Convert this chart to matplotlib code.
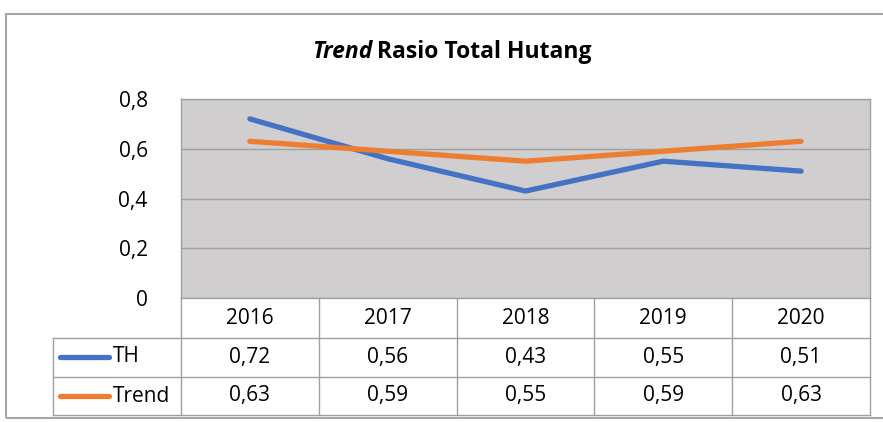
import matplotlib
matplotlib.use("Agg")
import matplotlib.pyplot as plt
from matplotlib.patches import Rectangle
from matplotlib.lines import Line2D
from matplotlib.transforms import blended_transform_factory

plt.rcParams.update({
    "font.family": ["Open Sans", "DejaVu Sans"],
    "font.size": 15,
})

years = ["2016", "2017", "2018", "2019", "2020"]
th = [0.72, 0.56, 0.43, 0.55, 0.51]
trend = [0.63, 0.59, 0.55, 0.59, 0.63]
yticks = [0, 0.2, 0.4, 0.6, 0.8]

COL_TH = "#4472C4"
COL_TR = "#ED7D31"
W, H = 883, 422


def fx(px):
    return px / W


def fy(py):
    return 1 - py / H


fig = plt.figure(figsize=(W / 100, H / 100), dpi=100)

# outer chart frame
fig.patches.append(Rectangle((fx(6), fy(418)), fx(885) - fx(6), fy(14) - fy(418),
                             transform=fig.transFigure, fill=False, ec="#A6A6A6", lw=1.5))

ax = fig.add_axes([fx(181), fy(298), fx(870) - fx(181), fy(99) - fy(298)])
ax.set_facecolor("#D0CECE")
x = range(len(years))
ax.plot(x, th, color=COL_TH, lw=3.8, solid_capstyle="round", zorder=3)
ax.plot(x, trend, color=COL_TR, lw=3.8, solid_capstyle="round", zorder=3)
ax.set_xlim(-0.5, len(years) - 0.5)
ax.set_ylim(0, 0.8)
ax.set_yticks(yticks)
ax.set_yticklabels([("%g" % v).replace(".", ",") for v in yticks])
ax.tick_params(axis="y", length=0, pad=24, labelsize=15)
ax.set_xticks([])
ax.grid(axis="y", color="#A0A0A0", lw=1.0)
for s in ax.spines.values():
    s.set_color("#A0A0A0")
    s.set_linewidth(1.0)

# title: italic "Trend" + bold rest
t1 = fig.text(fx(372), fy(52), "Trend", ha="right", va="center", fontsize=16.5,
              fontstyle="italic", fontweight="bold")
fig.text(fx(377), fy(52), "Rasio Total Hutang", ha="left", va="center", fontsize=16.5,
         fontweight="bold")

# data table under the axis
tr = blended_transform_factory(ax.transData, fig.transFigure)
lc = "#A0A0A0"
n = len(years)
for yy in (338, 377, 415):
    fig.add_artist(Line2D([fx(53), fx(870)], [fy(yy), fy(yy)], transform=fig.transFigure,
                          color=lc, lw=1))
fig.add_artist(Line2D([fx(53), fx(53)], [fy(338), fy(415)], transform=fig.transFigure,
                      color=lc, lw=1))
for i in range(n + 1):
    fig.add_artist(Line2D([i - 0.5, i - 0.5], [fy(298), fy(415)], transform=tr, color=lc, lw=1))

for i, yr in enumerate(years):
    fig.text(i, fy(318), yr, transform=tr, ha="center", va="center")
    fig.text(i, fy(357), ("%.2f" % th[i]).replace(".", ","), transform=tr,
             ha="center", va="center")
    fig.text(i, fy(396), ("%.2f" % trend[i]).replace(".", ","), transform=tr,
             ha="center", va="center")

for yy, col, name in [(357, COL_TH, "TH"), (396, COL_TR, "Trend")]:
    fig.add_artist(Line2D([fx(60), fx(109)], [fy(yy), fy(yy)], transform=fig.transFigure,
                          color=col, lw=3.8, solid_capstyle="round"))
    fig.text(fx(113), fy(yy), name, ha="left", va="center")

fig.savefig("out.png", dpi=100)
